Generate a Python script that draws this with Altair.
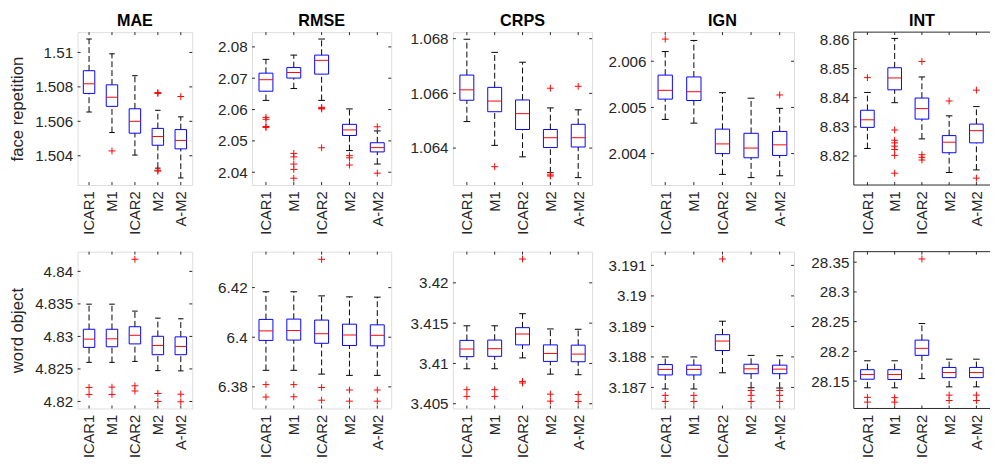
import json
import altair as alt
import pandas as pd

MODELS = ["ICAR1", "M1", "ICAR2", "M2", "A-M2"]
METRICS = ["MAE", "RMSE", "CRPS", "IGN", "INT"]
ROW_LABELS = ["face repetition", "word object"]

# ---------------- face repetition ----------------
fr_mae = dict(
    hi=[1.51078, 1.50992, 1.50865, 1.50664, 1.50626],
    q3=[1.50894, 1.50812, 1.50673, 1.50559, 1.50552],
    med=[1.50818, 1.50740, 1.50600, 1.50512, 1.50489],
    q1=[1.50762, 1.50687, 1.50531, 1.50461, 1.50440],
    lo=[1.50654, 1.50535, 1.50404, 1.50328, 1.50271],
    out=[[], [1.50428], [], [1.50767, 1.50762, 1.50316, 1.50311], [1.50744]],
)
fr_rmse = dict(
    hi=[2.07602, 2.07738, 2.08251, 2.06021, 2.05319],
    q3=[2.07162, 2.07340, 2.07738, 2.05529, 2.04942],
    med=[2.06953, 2.07183, 2.07571, 2.05351, 2.04785],
    q1=[2.06586, 2.07005, 2.07131, 2.05173, 2.04649],
    lo=[2.06293, 2.06670, 2.06293, 2.04691, 2.04262],
    out=[[2.0575, 2.0569, 2.0546, 2.0543],
         [2.0460, 2.0449, 2.0426, 2.0409, 2.0381],
         [2.0607, 2.0604, 2.0602, 2.0478],
         [2.0453, 2.0446, 2.0423],
         [2.0545, 2.0397]],
)
fr_crps = dict(
    hi=[1.06798, 1.06750, 1.06714, 1.06547, 1.06540],
    q3=[1.06667, 1.06622, 1.06576, 1.06468, 1.06487],
    med=[1.06613, 1.06572, 1.06526, 1.06438, 1.06438],
    q1=[1.06575, 1.06533, 1.06468, 1.06402, 1.06404],
    lo=[1.06497, 1.06410, 1.06368, 1.06310, 1.06292],
    out=[[], [1.06332], [], [1.06619, 1.06302, 1.06298], [1.06626]],
)
fr_ign = dict(
    hi=[2.00621, 2.00645, 2.00532, 2.00520, 2.00498],
    q3=[2.00570, 2.00566, 2.00453, 2.00444, 2.00448],
    med=[2.00537, 2.00534, 2.00421, 2.00412, 2.00419],
    q1=[2.00518, 2.00515, 2.00400, 2.00391, 2.00396],
    lo=[2.00474, 2.00466, 2.00355, 2.00348, 2.00352],
    out=[[2.00648], [], [], [], [2.00527]],
)
fr_int = dict(
    hi=[8.84181, 8.86034, 8.84712, 8.83379, 8.83695],
    q3=[8.83570, 8.85028, 8.83989, 8.82701, 8.83096],
    med=[8.83243, 8.84678, 8.83627, 8.82475, 8.82870],
    q1=[8.82983, 8.84271, 8.83266, 8.82113, 8.82452],
    lo=[8.82260, 8.83830, 8.82588, 8.81435, 8.81525],
    out=[[8.84689],
         [8.82893, 8.82542, 8.82452, 8.82339, 8.82226, 8.82023, 8.81412],
         [8.85243, 8.82045, 8.81955, 8.81864],
         [8.83887],
         [8.84260, 8.81243]],
)

# ---------------- word object ----------------
wo_mae = dict(
    hi=[4.83496, 4.83496, 4.83389, 4.83281, 4.83271],
    q3=[4.83110, 4.83110, 4.83149, 4.83002, 4.82993],
    med=[4.82958, 4.82963, 4.83017, 4.82861, 4.82846],
    q1=[4.82831, 4.82841, 4.82885, 4.82719, 4.82719],
    lo=[4.82601, 4.82601, 4.82616, 4.82474, 4.82470],
    out=[[4.82215, 4.82108], [4.82220, 4.82108], [4.84186, 4.82240, 4.82161],
         [4.82122, 4.82000], [4.82112, 4.81995]],
)
wo_rmse = dict(
    hi=[6.41833, 6.41833, 6.41667, 6.41628, 6.41615],
    q3=[6.40718, 6.40731, 6.40692, 6.40526, 6.40500],
    med=[6.40256, 6.40269, 6.40141, 6.40090, 6.40077],
    q1=[6.39872, 6.39885, 6.39756, 6.39667, 6.39654],
    lo=[6.38667, 6.38667, 6.38513, 6.38462, 6.38462],
    out=[[6.3809, 6.3759], [6.3809, 6.3760], [6.43141, 6.37974, 6.37462],
         [6.37872, 6.37423], [6.37872, 6.37423]],
)
wo_crps = dict(
    hi=[3.41467, 3.41467, 3.41617, 3.41428, 3.41424],
    q3=[3.41286, 3.41290, 3.41444, 3.41230, 3.41227],
    med=[3.41179, 3.41183, 3.41365, 3.41124, 3.41116],
    q1=[3.41084, 3.41088, 3.41230, 3.41025, 3.41021],
    lo=[3.40934, 3.40934, 3.41069, 3.40867, 3.40860],
    out=[[3.40674, 3.40591], [3.40674, 3.40591], [3.42296, 3.40777, 3.40757],
         [3.40619, 3.40532], [3.40615, 3.40528]],
)
wo_ign = dict(
    hi=[3.18800, 3.18800, 3.18917, 3.18805, 3.18804],
    q3=[3.18775, 3.18773, 3.18873, 3.18776, 3.18773],
    med=[3.18759, 3.18759, 3.18852, 3.18761, 3.18760],
    q1=[3.18741, 3.18741, 3.18821, 3.18745, 3.18745],
    lo=[3.18695, 3.18695, 3.18748, 3.18699, 3.18698],
    out=[[3.18674, 3.18654], [3.18674, 3.18654], [3.19121],
         [3.18690, 3.18674, 3.18654], [3.18690, 3.18674, 3.18654]],
)
wo_int = dict(
    hi=[28.18422, 28.18422, 28.24679, 28.18690, 28.18690],
    q3=[28.16925, 28.16925, 28.21898, 28.17299, 28.17299],
    med=[28.16123, 28.16123, 28.20508, 28.16444, 28.16444],
    q1=[28.15320, 28.15267, 28.19332, 28.15588, 28.15588],
    lo=[28.13877, 28.13877, 28.15428, 28.14037, 28.14037],
    out=[[28.12273, 28.11471], [28.12219, 28.11471], [28.35535],
         [28.12647, 28.11738], [28.12647, 28.11738]],
)

PANELS = [[fr_mae, fr_rmse, fr_crps, fr_ign, fr_int],
          [wo_mae, wo_rmse, wo_crps, wo_ign, wo_int]]

Y_LIMITS = [
    [[1.50230, 1.51118], [2.03592, 2.08471], [1.06265, 1.06824], [2.00332, 2.00663], [8.81006, 8.86249]],
    [[4.81892, 4.84303], [6.37128, 6.43449], [3.40441, 3.42387], [3.18631, 3.19145], [28.10401, 28.36765]],
]
Y_TICKS = [
    [[1.504, 1.506, 1.508, 1.51], [2.04, 2.05, 2.06, 2.07, 2.08], [1.064, 1.066, 1.068],
     [2.004, 2.005, 2.006], [8.82, 8.83, 8.84, 8.85, 8.86]],
    [[4.82, 4.825, 4.83, 4.835, 4.84], [6.38, 6.4, 6.42], [3.405, 3.41, 3.415, 3.42],
     [3.187, 3.188, 3.189, 3.19, 3.191], [28.15, 28.2, 28.25, 28.3, 28.35]],
]

# layout / style
COL_W = [117, 142, 142, 146, 139]
ROW_H = [156, 160]
AXIS_EXT = [44, 59, 61, 58, 59]
FONT = "Liberation Sans"
AX = "#262626"
BLUE = "#0000ff"
RED = "#ff0000"
PLUS = "M-1,0L1,0M0,-1L0,1"

label_expr = json.dumps(MODELS) + "[datum.value - 1]"


def panel(stats, ylim, yticks, w, h, ext, title=None, ytitle=None, open_right=False):
    pos = list(range(1, len(MODELS) + 1))
    box = pd.DataFrame({"pos": pos, "model": MODELS, "lo": stats["lo"], "q1": stats["q1"],
                        "med": stats["med"], "q3": stats["q3"], "hi": stats["hi"]})
    outs = pd.DataFrame([{"pos": i + 1, "val": v} for i, vs in enumerate(stats["out"]) for v in vs])
    ticks_df = pd.DataFrame({"t": yticks})
    pos_df = pd.DataFrame({"pos": pos})

    xs = alt.Scale(domain=[0.5, len(MODELS) + 0.5], nice=False, zero=False)
    ys = alt.Scale(domain=ylim, nice=False, zero=False)
    xaxis = alt.Axis(values=pos, labelExpr=label_expr, labelAngle=-90, ticks=False, tickSize=0,
                     domain=False, grid=False, labelPadding=6, labelFont=FONT, labelFontSize=15,
                     labelColor=AX, minExtent=50, maxExtent=50, labelOverlap=False, labelFlush=False)
    ykw = dict(values=yticks, format=".4~f", ticks=False, tickSize=0, domain=False, grid=False,
               labelPadding=5, labelFont=FONT, labelFontSize=15.5, labelColor=AX,
               minExtent=ext, maxExtent=ext, labelOverlap=False, labelFlush=False)
    if ytitle:
        yaxis = alt.Axis(titleFont=FONT, titleFontSize=17, titleFontWeight="normal",
                         titleColor=AX, titlePadding=8, **ykw)
    else:
        yaxis = alt.Axis(**ykw)

    def X(f):
        return alt.X(f, type="quantitative", scale=xs, axis=xaxis, title=None)

    def Y(f):
        if ytitle:
            return alt.Y(f, type="quantitative", scale=ys, axis=yaxis, title=ytitle)
        return alt.Y(f, type="quantitative", scale=ys, axis=yaxis, title=None)

    base = alt.Chart(box).transform_calculate(
        xl="datum.pos - 0.25", xr="datum.pos + 0.25",
        cl="datum.pos - 0.12", cr="datum.pos + 0.12")

    dash = dict(color="black", strokeWidth=1, strokeDash=[6, 3])
    w_up = base.mark_rule(**dash).encode(x=X("pos"), y=Y("q3"), y2="hi")
    w_dn = base.mark_rule(**dash).encode(x=X("pos"), y=Y("lo"), y2="q1")
    c_hi = base.mark_rule(color="black", strokeWidth=1).encode(x=X("cl"), x2="cr", y=Y("hi"))
    c_lo = base.mark_rule(color="black", strokeWidth=1).encode(x=X("cl"), x2="cr", y=Y("lo"))
    bx = base.mark_rect(fill="transparent", stroke=BLUE, strokeWidth=1).encode(
        x=X("xl"), x2="xr", y=Y("q1"), y2="q3")
    md = base.mark_rule(color=RED, strokeWidth=1).encode(x=X("xl"), x2="xr", y=Y("med"))
    layers = [w_up, w_dn, c_hi, c_lo, bx, md]
    if len(outs):
        layers.append(alt.Chart(outs).mark_point(shape=PLUS, size=49, stroke=RED, filled=False,
                                                 strokeWidth=1, opacity=1).encode(
            x=X("pos"), y=Y("val")))
    # inward ticks (MATLAB style)
    layers.append(alt.Chart(ticks_df).mark_rule(color=AX, strokeWidth=1).encode(
        y=Y("t"), x=alt.value(0), x2=alt.value(3)))
    if not open_right:
        layers.append(alt.Chart(ticks_df).mark_rule(color=AX, strokeWidth=1).encode(
            y=Y("t"), x=alt.value(w - 3), x2=alt.value(w)))
    layers.append(alt.Chart(pos_df).mark_rule(color=AX, strokeWidth=1).encode(
        x=X("pos"), y=alt.value(h - 3), y2=alt.value(h)))
    layers.append(alt.Chart(pos_df).mark_rule(color=AX, strokeWidth=1).encode(
        x=X("pos"), y=alt.value(0), y2=alt.value(3)))
    if open_right:
        one = pos_df.head(1)
        layers.append(alt.Chart(one).mark_rule(color=AX, strokeWidth=1).encode(
            x=alt.value(0), y=alt.value(0), y2=alt.value(h)))
        layers.append(alt.Chart(one).mark_rule(color=AX, strokeWidth=1).encode(
            y=alt.value(0), x=alt.value(0), x2=alt.value(w)))
        layers.append(alt.Chart(one).mark_rule(color=AX, strokeWidth=1).encode(
            y=alt.value(h), x=alt.value(0), x2=alt.value(w)))

    ch = alt.layer(*layers).properties(width=w, height=h)
    if open_right:
        ch = ch.properties(view=alt.ViewBackground(stroke="transparent"))
    if title:
        ch = ch.properties(title=alt.TitleParams(title, font=FONT, fontSize=16.5, fontWeight="bold",
                                                 color="black", offset=2.5))
    return ch


rows = []
for r in range(2):
    panels = []
    for c in range(5):
        panels.append(panel(PANELS[r][c], Y_LIMITS[r][c], Y_TICKS[r][c], COL_W[c], ROW_H[r],
                            AXIS_EXT[c],
                            title=METRICS[c] if r == 0 else None,
                            ytitle=ROW_LABELS[r] if c == 0 else None,
                            open_right=(c == 4)))
    rows.append(alt.hconcat(*panels, spacing=0))

chart = alt.vconcat(*rows, spacing=16, padding=0).configure_view(
    stroke=AX, strokeWidth=1).configure(background="white")

chart.save("out.html", embed_options={"renderer": "svg", "actions": False})
